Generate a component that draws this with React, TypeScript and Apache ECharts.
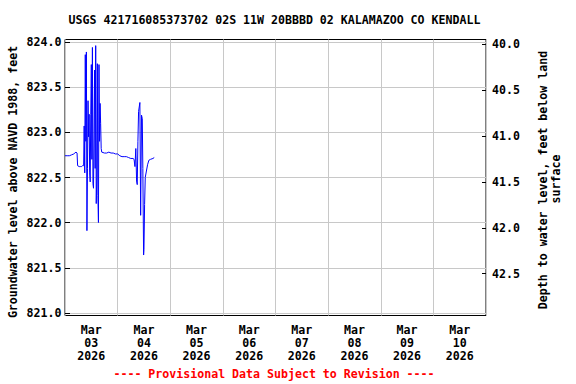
import { useEffect, useRef } from 'react';
import * as echarts from 'echarts';

const chartTitle = 'USGS 421716085373702 02S 11W 20BBBD 02 KALAMAZOO CO KENDALL';
const leftAxisName = 'Groundwater level above NAVD 1988, feet';
const rightAxisLines = ['Depth to water level, feet below land', 'surface'];
const footerText = '---- Provisional Data Subject to Revision ----';

// One label per day, Mar 03 .. Mar 10 2026
const dayLabels = [
  'Mar\n03\n2026', 'Mar\n04\n2026', 'Mar\n05\n2026', 'Mar\n06\n2026',
  'Mar\n07\n2026', 'Mar\n08\n2026', 'Mar\n09\n2026', 'Mar\n10\n2026',
];

// Hours since 2026-03-03 00:00
const hoursSinceStart = [
  0, 1, 2, 3, 4, 4.5, 5, 5.5, 5.75, 6.5, 7, 7.5, 8, 8.5,
  8.75, 9, 9.25, 9.5, 9.75, 10, 10.25, 10.5, 10.75, 11, 11.25, 11.5, 11.75, 12,
  12.25, 12.5, 12.75, 13, 13.25, 13.5, 13.75, 14, 14.25, 14.5, 14.75, 15, 15.25,
  15.5, 15.75, 16, 16.25, 16.5, 16.75,
  17, 18, 19, 20, 21, 22, 23, 24, 25, 26, 27, 28, 29, 30, 31, 31.5,
  31.9, 32.3, 32.65, 32.95, 33.25, 33.55, 34.15, 34.5, 34.9, 35.25, 35.5, 35.85,
  36, 36.3, 36.6, 37.05, 37.65, 38.25, 39, 40.1, 40.7,
];

// Groundwater level, feet above NAVD 1988
const levelFeet = [
  822.74, 822.74, 822.74, 822.75, 822.76, 822.77, 822.78, 822.77, 822.63, 822.62, 822.62, 822.62, 822.63, 822.63,
  823.07, 822.55, 823.86, 822.9, 823.89, 821.91, 822.6, 823.35, 822.95, 823.2, 822.55, 822.45, 823.2, 823.75,
  822.7, 823.94, 822.43, 822.38, 823.0, 823.69, 822.6, 823.96, 822.21, 822.5, 823.76, 822.3, 822.0,
  823.75, 822.9, 823.32, 823.1, 822.82, 822.78,
  822.78, 822.77, 822.77, 822.78, 822.77, 822.77, 822.76, 822.76, 822.74, 822.73, 822.73, 822.73, 822.72, 822.71, 822.71, 822.7,
  822.62, 822.82, 822.46, 822.42, 822.9, 823.23, 823.33, 822.08, 823.19, 823.15, 822.6, 821.64,
  821.7, 822.2, 822.5, 822.56, 822.64, 822.69, 822.7, 822.71, 822.72,
];

const FONT = '"DejaVu Sans Mono", "Liberation Mono", monospace';

export default function App() {
  const ref = useRef<HTMLDivElement>(null);

  useEffect(() => {
    document.body.style.margin = '0';
    if (!ref.current) return;
    const chart = echarts.init(ref.current, null, { renderer: 'svg' });

    const data = hoursSinceStart.map((h, i) => [h, levelFeet[i]]);
    const labelStyle = {
      fontFamily: FONT,
      fontWeight: 'bold' as const,
      fontSize: 11.6,
      color: '#000',
    };
    const gridColor = '#c8c8c8';

    chart.setOption({
      animation: false,
      grid: [
        { left: 65, top: 39.5, width: 421, height: 276, show: true, borderColor: '#000', borderWidth: 1, backgroundColor: 'transparent' },
        { left: 65, top: 42, width: 421, height: 271 },
        { left: 65, top: 44.3, width: 421, height: 229.4 },
      ],
      xAxis: [
        {
          type: 'value', gridIndex: 0, min: 0, max: 192, interval: 24,
          axisLine: { show: false, onZero: false }, axisTick: { show: false }, axisLabel: { show: false },
          splitLine: { show: true, lineStyle: { color: gridColor, width: 1 } },
        },
        {
          type: 'category', gridIndex: 0, position: 'bottom', data: dayLabels, boundaryGap: true,
          axisLine: { show: false, onZero: false }, axisTick: { show: false }, splitLine: { show: false },
          axisLabel: { ...labelStyle, interval: 0, margin: 8.5, lineHeight: 12.6 },
        },
        { type: 'value', gridIndex: 1, show: false, min: 0, max: 1, axisLine: { onZero: false } },
        { type: 'value', gridIndex: 2, show: false, min: 0, max: 1, axisLine: { onZero: false } },
      ],
      yAxis: [
        {
          type: 'value', gridIndex: 0, min: 820.97, max: 824.028, show: false,
          axisLine: { show: false, onZero: false }, splitLine: { show: false },
        },
        {
          type: 'value', gridIndex: 1, min: 821, max: 824, interval: 0.5, position: 'left',
          axisLine: { show: false, onZero: false },
          axisTick: { show: true, inside: true, length: 5, lineStyle: { color: '#000', width: 1 } },
          axisLabel: { ...labelStyle, margin: 3.5, formatter: (v: number) => v.toFixed(1) },
          splitLine: { show: true, lineStyle: { color: gridColor, width: 1 } },
        },
        {
          type: 'value', gridIndex: 2, min: 40, max: 42.5, interval: 0.5, inverse: true, position: 'right',
          axisLine: { show: false, onZero: false },
          axisTick: { show: true, inside: true, length: 4, lineStyle: { color: '#000', width: 1 } },
          axisLabel: { ...labelStyle, margin: 6, formatter: (v: number) => v.toFixed(1) },
          splitLine: { show: false },
        },
      ],
      series: [
        {
          type: 'line', xAxisIndex: 0, yAxisIndex: 0, data,
          symbol: 'none', showSymbol: false, z: 5,
          lineStyle: { color: '#0000ff', width: 1 },
        },
      ],
      graphic: [
        {
          type: 'text', x: 274.5, y: 20,
          style: { text: chartTitle, font: `bold 11.6px ${FONT}`, fill: '#000', align: 'center', verticalAlign: 'middle' },
        },
        {
          type: 'text', x: 12.5, y: 182, rotation: Math.PI / 2,
          style: { text: leftAxisName, font: `bold 11.6px ${FONT}`, fill: '#000', align: 'center', verticalAlign: 'middle' },
        },
        {
          type: 'text', x: 542.7, y: 180, rotation: Math.PI / 2,
          style: { text: rightAxisLines[0], font: `bold 11.6px ${FONT}`, fill: '#000', align: 'center', verticalAlign: 'middle' },
        },
        {
          type: 'text', x: 556, y: 179, rotation: Math.PI / 2,
          style: { text: rightAxisLines[1], font: `bold 11.6px ${FONT}`, fill: '#000', align: 'center', verticalAlign: 'middle' },
        },
        {
          type: 'text', x: 274, y: 374,
          style: { text: footerText, font: `bold 11.6px ${FONT}`, fill: '#ff0000', align: 'center', verticalAlign: 'middle' },
        },
      ],
    });

    return () => chart.dispose();
  }, []);

  return <div ref={ref} style={{ width: 576, height: 384 }} />;
}
